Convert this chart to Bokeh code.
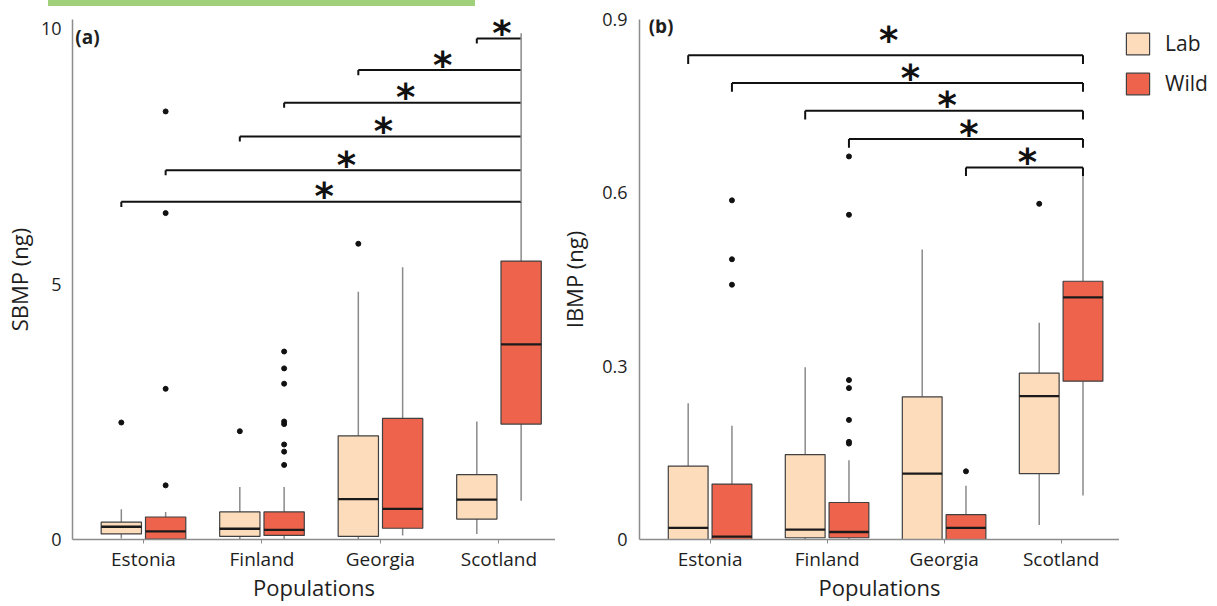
from bokeh.plotting import figure
from bokeh.models import (ColumnDataSource, FixedTicker, Label, Legend, LegendItem,
                          Div, Spacer)
from bokeh.layouts import row, column
from bokeh.embed import file_html
from bokeh.resources import INLINE
from bokeh.core.properties import value

# ---------------- data ----------------
categories = ["Estonia", "Finland", "Georgia", "Scotland"]
groups = ["Lab", "Wild"]

# Panel (a): SBMP (ng)
sbmp_lab_lower = [0.02, 0.00, 0.00, 0.11]
sbmp_lab_q1 = [0.11, 0.06, 0.06, 0.40]
sbmp_lab_median = [0.25, 0.21, 0.79, 0.78]
sbmp_lab_q3 = [0.34, 0.54, 2.03, 1.27]
sbmp_lab_upper = [0.59, 1.03, 4.85, 2.31]

sbmp_wild_lower = [0.00, 0.00, 0.08, 0.76]
sbmp_wild_q1 = [0.01, 0.08, 0.22, 2.26]
sbmp_wild_median = [0.16, 0.19, 0.60, 3.82]
sbmp_wild_q3 = [0.44, 0.54, 2.37, 5.45]
sbmp_wild_upper = [0.54, 1.03, 5.33, 6.61]

sbmp_out_cat = ["Estonia", "Estonia", "Estonia", "Estonia", "Estonia",
                "Finland", "Finland", "Finland", "Finland", "Finland",
                "Finland", "Finland", "Finland", "Finland", "Georgia"]
sbmp_out_group = ["Lab", "Wild", "Wild", "Wild", "Wild",
                  "Lab", "Wild", "Wild", "Wild", "Wild",
                  "Wild", "Wild", "Wild", "Wild", "Lab"]
sbmp_out_value = [2.29, 1.06, 2.95, 6.39, 8.38,
                  2.12, 3.68, 3.35, 3.05, 2.31,
                  2.26, 1.86, 1.72, 1.46, 5.79]

sbmp_cmp_from_cat = ["Scotland", "Georgia", "Finland", "Finland", "Estonia", "Estonia"]
sbmp_cmp_from_group = ["Lab", "Lab", "Wild", "Lab", "Wild", "Lab"]
sbmp_cmp_to_cat = ["Scotland"] * 6
sbmp_cmp_to_group = ["Wild"] * 6
sbmp_cmp_level = [9.81, 9.19, 8.55, 7.89, 7.23, 6.61]
sbmp_cmp_label = ["*"] * 6

# Panel (b): IBMP (ng)
ibmp_lab_lower = [0.000, 0.000, 0.000, 0.025]
ibmp_lab_q1 = [0.000, 0.003, 0.000, 0.114]
ibmp_lab_median = [0.020, 0.017, 0.114, 0.248]
ibmp_lab_q3 = [0.127, 0.147, 0.247, 0.288]
ibmp_lab_upper = [0.236, 0.298, 0.502, 0.375]

ibmp_wild_lower = [0.000, 0.000, 0.000, 0.076]
ibmp_wild_q1 = [0.000, 0.003, 0.000, 0.274]
ibmp_wild_median = [0.005, 0.013, 0.020, 0.419]
ibmp_wild_q3 = [0.096, 0.064, 0.043, 0.447]
ibmp_wild_upper = [0.197, 0.137, 0.093, 0.630]

ibmp_out_cat = ["Estonia", "Estonia", "Estonia",
                "Finland", "Finland", "Finland", "Finland", "Finland", "Finland", "Finland",
                "Georgia", "Scotland"]
ibmp_out_group = ["Wild", "Wild", "Wild",
                  "Wild", "Wild", "Wild", "Wild", "Wild", "Wild", "Wild",
                  "Wild", "Lab"]
ibmp_out_value = [0.587, 0.485, 0.441,
                  0.663, 0.562, 0.276, 0.262, 0.207, 0.169, 0.166,
                  0.118, 0.581]

ibmp_cmp_from_cat = ["Estonia", "Estonia", "Finland", "Finland", "Georgia"]
ibmp_cmp_from_group = ["Lab", "Wild", "Lab", "Wild", "Wild"]
ibmp_cmp_to_cat = ["Scotland"] * 5
ibmp_cmp_to_group = ["Wild"] * 5
ibmp_cmp_level = [0.838, 0.790, 0.742, 0.693, 0.644]
ibmp_cmp_label = ["*"] * 5

# ---------------- styling ----------------
LAB_COLOR = "#fddcbb"
WILD_COLOR = "#ee634b"
GROUP_COLORS = {"Lab": LAB_COLOR, "Wild": WILD_COLOR}
BOX_LINE = "#404040"
WHISKER = "#8a8a8a"
AXIS = "#8c8c8c"
TEXT = "#1e1e1e"
FONT = "Open Sans"
OFFSET = {"Lab": -0.187, "Wild": 0.187}
BOX_W = 0.34
TOP_STRIP = 6
PLOT_H = 606 - TOP_STRIP
BORDER_TOP = 13     # frame top at 19 px in the page
BORDER_BOTTOM = 67  # frame bottom at 539 px in the page


def xpos(cat, grp):
    return categories.index(cat) + 1 + OFFSET[grp]


def box_source(grp, lower, q1, med, q3, upper):
    xs = [xpos(c, grp) for c in categories]
    return ColumnDataSource(dict(
        x=xs, left=[x - BOX_W / 2 for x in xs], right=[x + BOX_W / 2 for x in xs],
        lower=lower, q1=q1, med=med, q3=q3, upper=upper))


def draw_boxes(p, grp, src):
    return p.quad(left="left", right="right", bottom="q1", top="q3", source=src,
                  fill_color=GROUP_COLORS[grp], line_color=BOX_LINE, line_width=1.2)


def make_panel(width, left_b, x_range, y_range, yticks, ylabel_overrides, ylabel,
               lab, wild, outliers, cmp, connector, star_offsets,
               ylabel_standoff, ylabel_label_standoff):
    p = figure(width=width, height=PLOT_H, x_range=x_range, y_range=y_range,
               output_backend="svg", toolbar_location=None,
               min_border_left=left_b, min_border_right=0,
               min_border_top=BORDER_TOP, min_border_bottom=BORDER_BOTTOM)
    p.outline_line_color = None
    p.grid.grid_line_color = None
    p.background_fill_color = "white"
    p.border_fill_color = "white"

    # axes
    p.xaxis.ticker = FixedTicker(ticks=[1, 2, 3, 4])
    p.xaxis.major_label_overrides = {i + 1: c for i, c in enumerate(categories)}
    p.xaxis.axis_label = "Populations"
    p.yaxis.ticker = FixedTicker(ticks=yticks)
    p.yaxis.major_label_overrides = ylabel_overrides
    p.yaxis.axis_label = ylabel
    for ax in (p.xaxis[0], p.yaxis[0]):
        ax.axis_line_color = AXIS
        ax.axis_line_width = 1.5
        ax.major_tick_line_color = AXIS
        ax.minor_tick_line_color = None
        ax.major_tick_in = 0
        ax.major_label_text_font = FONT
        ax.major_label_text_font_size = "18px"
        ax.major_label_text_color = TEXT
        ax.axis_label_text_font = FONT
        ax.axis_label_text_font_size = "22px"
        ax.axis_label_text_font_style = "normal"
        ax.axis_label_text_color = TEXT
    p.xaxis.major_label_text_font_size = "19px"
    p.xaxis.major_tick_out = 4
    p.xaxis.major_label_standoff = 2
    p.xaxis.axis_label_standoff = -3
    p.yaxis.major_tick_out = 0
    p.yaxis.major_label_standoff = ylabel_standoff
    p.yaxis.axis_label_standoff = ylabel_label_standoff

    for grp, src in (("Lab", lab), ("Wild", wild)):
        p.segment(x0="x", x1="x", y0="q3", y1="upper", source=src,
                  line_color=WHISKER, line_width=1.5)
        p.segment(x0="x", x1="x", y0="lower", y1="q1", source=src,
                  line_color=WHISKER, line_width=1.5)
        draw_boxes(p, grp, src)
        p.segment(x0="left", x1="right", y0="med", y1="med", source=src,
                  line_color="#1a1a1a", line_width=2.3)

    ocat, ogrp, oval = outliers
    osrc = ColumnDataSource(dict(x=[xpos(c, g) for c, g in zip(ocat, ogrp)], y=oval))
    p.scatter(x="x", y="y", source=osrc, size=5, color="#111111")

    # comparison brackets
    fcat, fgrp, tcat, tgrp, level, labels, leg_len = cmp
    x0 = [xpos(c, g) for c, g in zip(fcat, fgrp)]
    x1 = [xpos(c, g) for c, g in zip(tcat, tgrp)]
    bsrc = ColumnDataSource(dict(x0=x0, x1=x1, y=level,
                                 yl=[v - leg_len for v in level],
                                 xm=[(a + b) / 2 for a, b in zip(x0, x1)],
                                 lab=labels, dy=star_offsets))
    p.segment(x0="x0", x1="x1", y0="y", y1="y", source=bsrc, line_color="#111111", line_width=2)
    p.segment(x0="x0", x1="x0", y0="y", y1="yl", source=bsrc, line_color="#111111", line_width=2)
    if connector:
        p.segment(x0=[x1[0]], x1=[x1[0]], y0=[min(level)], y1=[max(level) + leg_len],
                  line_color=WHISKER, line_width=1.5)
    else:
        p.segment(x0="x1", x1="x1", y0="y", y1="yl", source=bsrc, line_color="#111111", line_width=2)
    p.text(x="xm", y="y", text="lab", source=bsrc, text_align="center",
           text_baseline="alphabetic", y_offset="dy", x_offset=3,
           text_font=value("DejaVu Sans"), text_font_style="bold",
           text_font_size="37px", text_color="#111111")
    return p


# ---------------- panel (a) ----------------
pa = make_panel(
    555, 72, (0.401, 4.477), (0, 10.18), [0, 5, 10], {}, "SBMP (ng)",
    box_source("Lab", sbmp_lab_lower, sbmp_lab_q1, sbmp_lab_median, sbmp_lab_q3, sbmp_lab_upper),
    box_source("Wild", sbmp_wild_lower, sbmp_wild_q1, sbmp_wild_median, sbmp_wild_q3, sbmp_wild_upper),
    (sbmp_out_cat, sbmp_out_group, sbmp_out_value),
    (sbmp_cmp_from_cat, sbmp_cmp_from_group, sbmp_cmp_to_cat, sbmp_cmp_to_group,
     sbmp_cmp_level, sbmp_cmp_label, 0.1),
    True, [-5] * 6, 11, 4)
pa.add_layout(Label(x=0.425, y=9.83, text="(a)", text_font=FONT, text_font_style="bold",
                    text_font_size="19px", text_baseline="middle", text_color=TEXT))

# ---------------- panel (b) ----------------
ib_lab = box_source("Lab", ibmp_lab_lower, ibmp_lab_q1, ibmp_lab_median, ibmp_lab_q3, ibmp_lab_upper)
ib_wild = box_source("Wild", ibmp_wild_lower, ibmp_wild_q1, ibmp_wild_median, ibmp_wild_q3, ibmp_wild_upper)
pb = make_panel(
    564, 84, (0.397, 4.499), (0, 0.9), [0, 0.3, 0.6, 0.9], {0: "0"}, "IBMP (ng)",
    ib_lab, ib_wild,
    (ibmp_out_cat, ibmp_out_group, ibmp_out_value),
    (ibmp_cmp_from_cat, ibmp_cmp_from_group, ibmp_cmp_to_cat, ibmp_cmp_to_group,
     ibmp_cmp_level, ibmp_cmp_label, 0.015),
    False, [-15, -5, -5, -5, -5], 12, 10)
pb.add_layout(Label(x=0.475, y=0.889, text="(b)", text_font=FONT, text_font_style="bold",
                    text_font_size="19px", text_baseline="middle", text_color=TEXT))

# ---------------- legend panel (boxes of panel b, shown only as legend keys) ----------------
pc = figure(width=98, height=PLOT_H, x_range=(100, 101), y_range=(0, 0.9),
            output_backend="svg", toolbar_location=None,
            x_axis_location=None, y_axis_location=None,
            min_border_left=0, min_border_right=0,
            min_border_top=BORDER_TOP, min_border_bottom=BORDER_BOTTOM)
pc.outline_line_color = None
pc.grid.grid_line_color = None
pc.background_fill_color = "white"
pc.border_fill_color = "white"
items = [LegendItem(label=g, renderers=[draw_boxes(pc, g, src)])
         for g, src in (("Lab", ib_lab), ("Wild", ib_wild))]
legend = Legend(items=items, location=(4, 442), glyph_width=29, glyph_height=27, spacing=12,
                padding=0, margin=0, label_standoff=13,
                label_text_font=FONT, label_text_font_size="21px", label_text_color=TEXT,
                border_line_color=None, background_fill_alpha=0)
pc.add_layout(legend)

strip = Div(text="", width=427, height=TOP_STRIP, margin=0,
            styles={"background-color": "#a0d07a"})
top = row(Spacer(width=48, height=TOP_STRIP, margin=0), strip,
          Spacer(width=1217 - 48 - 427, height=TOP_STRIP, margin=0))
layout = column(top, row(pa, pb, pc))
open("out.html", "w").write(file_html(layout, INLINE))
